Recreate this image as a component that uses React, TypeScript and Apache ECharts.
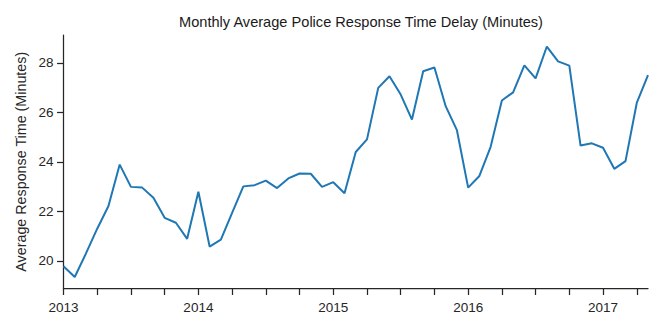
import React, { useEffect, useRef } from "react";
import * as echarts from "echarts";

const startYear = 2013;
const monthCount = 53;
const months: string[] = Array.from({ length: monthCount }, (_, i) => {
  const y = startYear + Math.floor(i / 12);
  const m = (i % 12) + 1;
  return `${y}-${m < 10 ? "0" + m : m}`;
});

const responseTimes: number[] = [
  19.78, 19.35, 20.3, 21.3, 22.22, 23.89, 22.99, 22.96, 22.55, 21.74, 21.54, 20.89,
  22.79, 20.58, 20.86, 21.94, 23.01, 23.06, 23.24, 22.94, 23.33, 23.53, 23.52, 22.99,
  23.18, 22.73, 24.4, 24.91, 26.99, 27.46, 26.72, 25.71, 27.66, 27.81, 26.25, 25.28,
  22.96, 23.43, 24.61, 26.48, 26.81, 27.9, 27.37, 28.66, 28.06, 27.89, 24.66, 24.75,
  24.57, 23.72, 24.03, 26.38, 27.5,
];

const yTicks = [20, 22, 24, 26, 28];
const titleText = "Monthly Average Police Response Time Delay (Minutes)";
const yName = "Average Response Time (Minutes)";

const textColor = "#262626";
const font = "'Liberation Sans', Arial, sans-serif";

export default function App() {
  const ref = useRef<HTMLDivElement>(null);
  useEffect(() => {
    if (!ref.current) return;
    const chart = echarts.init(ref.current, null, { renderer: "svg" });
    const lo = Math.min(...responseTimes);
    const hi = Math.max(...responseTimes);
    const pad = (hi - lo) * 0.05;
    chart.setOption({
      animation: false,
      backgroundColor: "#ffffff",
      title: {
        text: titleText,
        left: 356,
        textAlign: "center",
        top: 9,
        textStyle: { fontFamily: font, fontSize: 14.6, fontWeight: "normal", color: "#1a1a1a" },
      },
      grid: { left: 63.5, right: 16, top: 35, bottom: 43.5 },
      xAxis: {
        type: "category",
        data: months,
        boundaryGap: false,
        axisLine: { lineStyle: { color: textColor, width: 1.25 } },
        axisTick: { interval: 2, length: 6.5, lineStyle: { color: textColor, width: 1.25 } },
        axisLabel: {
          interval: 11,
          margin: 12,
          color: textColor,
          fontFamily: font,
          fontSize: 13.5,
          formatter: (v: string) => v.slice(0, 4),
        },
        splitLine: { show: false },
      },
      yAxis: {
        type: "value",
        min: lo - pad,
        max: hi + pad,
        name: yName,
        nameLocation: "middle",
        nameGap: 35,
        nameRotate: 90,
        nameTextStyle: { fontFamily: font, fontSize: 14.3, color: textColor },
        axisLine: { show: true, lineStyle: { color: textColor, width: 1.25 } },
        axisTick: { show: true, length: 6.5, customValues: yTicks, lineStyle: { color: textColor, width: 1.25 } },
        axisLabel: {
          customValues: yTicks,
          margin: 10,
          color: textColor,
          fontFamily: font,
          fontSize: 13.5,
        },
        splitLine: { show: false },
      },
      series: [
        {
          type: "line",
          data: responseTimes,
          showSymbol: false,
          symbol: "none",
          lineStyle: { color: "#1f77b4", width: 2 },
        },
      ],
    });
    return () => chart.dispose();
  }, []);
  return <div ref={ref} style={{ width: 664, height: 332, position: "absolute", left: 0, top: 0 }} />;
}
